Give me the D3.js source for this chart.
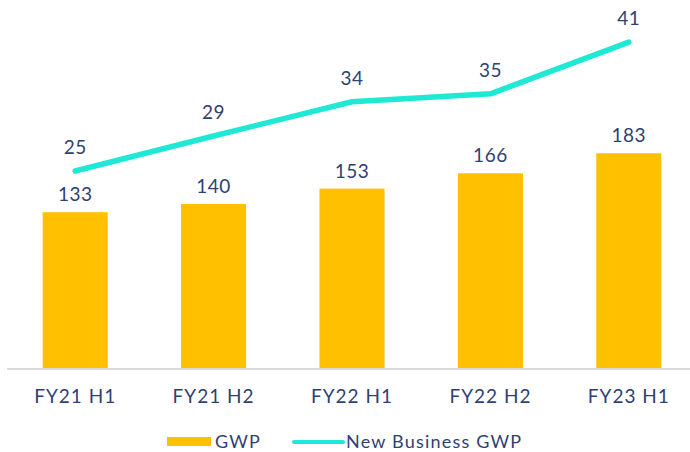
<!DOCTYPE html>
<html>
<head>
<meta charset="utf-8">
<script src="https://cdn.jsdelivr.net/npm/d3@7"></script>
<style>
  body { margin: 0; background: #fff; }
  text { font-family: Lato, "Open Sans", sans-serif; fill: #2f3f73; }
</style>
</head>
<body>
<div id="chart"></div>
<script>
// chart data
var periods = ["FY21 H1", "FY21 H2", "FY22 H1", "FY22 H2", "FY23 H1"];
var gwp = [133, 140, 153, 166, 183];
var newBusiness = [24.9, 29.3, 33.6, 34.6, 41.1];
var seriesNames = ["GWP", "New Business GWP"];

var width = 690;
var height = 452;
var baseline = 369;
var barColor = "#ffc000";
var lineColor = "#1de9d5";

var svg = d3.select("#chart").append("svg").attr("width", width).attr("height", height);

var x = d3.scaleBand().domain(periods).range([6, 698]).paddingInner(0.53).paddingOuter(0.265);
var y = d3.scaleLinear().domain([0, 313]).range([baseline, 0]);
var y2 = d3.scaleLinear().domain([0, 46.4]).range([baseline, 0]);

// bars
svg.selectAll("rect.bar").data(gwp).enter().append("rect")
  .attr("class", "bar")
  .attr("x", function(d, i){ return x(periods[i]); })
  .attr("y", function(d){ return y(d); })
  .attr("width", x.bandwidth())
  .attr("height", function(d){ return baseline - y(d); })
  .attr("fill", barColor);

svg.selectAll("text.barlabel").data(gwp).enter().append("text")
  .attr("class", "barlabel")
  .attr("x", function(d, i){ return x(periods[i]) + x.bandwidth()/2; })
  .attr("y", function(d){ return y(d) - 11; })
  .attr("text-anchor", "middle")
  .style("font-size", "19px")
  .style("letter-spacing", "0.5px")
  .text(function(d){ return d; });

// x axis
var xaxis = d3.axisBottom(x).tickSize(0).tickPadding(0);
var gx = svg.append("g").attr("transform", "translate(0," + baseline + ")").call(xaxis);
gx.select(".domain").attr("d", "M7,0H690").attr("stroke", "#d9d9d9").attr("stroke-width", 2);
gx.selectAll(".tick text")
  .attr("y", 34)
  .attr("dy", 0)
  .style("font-size", "19px")
  .style("font-family", "Lato, sans-serif")
  .style("letter-spacing", "1px")
  .attr("fill", "#2f3f73");

// line
var line = d3.line()
  .x(function(d, i){ return x(periods[i]) + x.bandwidth()/2; })
  .y(function(d){ return y2(d); });

svg.append("path").datum(newBusiness)
  .attr("d", line)
  .attr("fill", "none")
  .attr("stroke", lineColor)
  .attr("stroke-width", 5.5)
  .attr("stroke-linecap", "round")
  .attr("stroke-linejoin", "round");

svg.selectAll("text.linelabel").data(newBusiness).enter().append("text")
  .attr("class", "linelabel")
  .attr("x", function(d, i){ return x(periods[i]) + x.bandwidth()/2; })
  .attr("y", function(d){ return y2(d) - 17; })
  .attr("text-anchor", "middle")
  .style("font-size", "19px")
  .style("letter-spacing", "0.5px")
  .text(function(d){ return d3.format(".0f")(d); });

// legend
var legend = svg.append("g");
legend.append("rect").attr("x", 167).attr("y", 437).attr("width", 44).attr("height", 9).attr("fill", barColor);
legend.append("text").attr("x", 215).attr("y", 448).style("font-size", "18px").style("letter-spacing", "1.2px").text(seriesNames[0]);
legend.append("line").attr("x1", 294).attr("x2", 343).attr("y1", 442).attr("y2", 442)
  .attr("stroke", lineColor).attr("stroke-width", 4).attr("stroke-linecap", "round");
legend.append("text").attr("x", 346).attr("y", 448).style("font-size", "18px").style("letter-spacing", "1.2px").text(seriesNames[1]);
</script>
</body>
</html>
